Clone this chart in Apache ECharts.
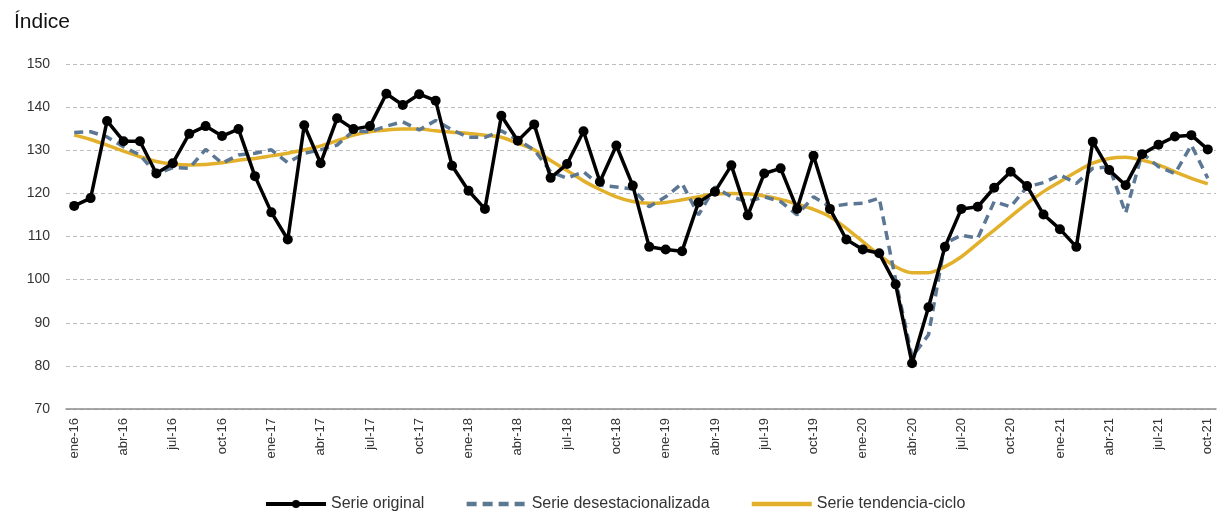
<!DOCTYPE html>
<html>
<head>
<meta charset="utf-8">
<script src="https://cdn.jsdelivr.net/npm/echarts@6/dist/echarts.min.js"></script>
<style>
  html, body { margin: 0; padding: 0; background: #fff; }
  #chart { width: 1220px; height: 518px; }
</style>
</head>
<body>
<div id="chart"></div>
<script>
// meses ene-16 .. oct-21
const meses = ["ene", "feb", "mar", "abr", "may", "jun", "jul", "ago", "sep", "oct", "nov", "dic"]
const categorias = []
for (let a = 16; a <= 21; a++) {
  for (let m = 0; m < 12; m++) {
    if (a === 21 && m > 9) break
    categorias.push(meses[m] + "-" + a)
  }
}

const serieOriginal = [
  117.1, 118.9, 136.8, 132.1, 132.1, 124.6, 127.0, 133.8, 135.6, 133.3, 134.9, 124.0,
  115.6, 109.3, 135.8, 127.0, 137.4, 134.9, 135.6, 143.1, 140.5, 143.0, 141.5, 126.4,
  120.6, 116.4, 138.0, 132.2, 136.0, 123.6, 126.8, 134.4, 122.7, 131.1, 121.8, 107.6,
  107.0, 106.6, 117.9, 120.4, 126.5, 114.9, 124.6, 125.8, 116.4, 128.7, 116.4, 109.3,
  107.0, 106.1, 98.9, 80.6, 93.6, 107.6, 116.4, 116.9, 121.3, 125.0, 121.7, 115.1,
  111.7, 107.6, 132.0, 125.4, 121.9, 129.1, 131.3, 133.2, 133.5, 130.2,
]

const serieDesest = [
  134.1, 134.3, 133.1, 130.8, 128.9, 124.5, 126.0, 125.8, 130.2, 127.0, 128.9, 129.3,
  130.1, 127.1, 129.3, 130.1, 131.2, 134.5, 134.3, 135.6, 136.6, 134.7, 136.9, 134.7,
  133.0, 133.0, 134.5, 132.4, 130.1, 125.0, 123.5, 125.0, 121.9, 121.5, 121.0, 116.9,
  119.2, 122.3, 115.0, 121.5, 119.2, 118.1, 119.2, 118.1, 115.0, 119.2, 116.9, 117.5,
  117.7, 118.9, 99.9, 82.1, 87.2, 108.4, 110.3, 109.6, 118.1, 116.9, 121.5, 122.5,
  124.3, 122.3, 125.8, 126.2, 115.4, 129.3, 126.2, 124.6, 131.2, 123.5,
]

const serieTendencia = [
  133.5, 132.5, 131.2, 129.8, 128.5, 127.4, 126.8, 126.6, 126.7, 127.1, 127.7, 128.1,
  128.7, 129.3, 130.1, 131.0, 132.2, 133.5, 134.3, 134.7, 134.9, 134.9, 134.5, 134.2,
  133.9, 133.5, 133.0, 131.6, 130.1, 127.6, 125.3, 122.9, 120.9, 119.2, 118.1, 117.7,
  117.9, 118.5, 119.2, 119.9, 120.0, 119.9, 119.4, 118.6, 117.5, 116.3, 114.6, 111.9,
  108.8, 105.7, 103.0, 101.6, 101.6, 103.0, 105.3, 108.4, 111.5, 114.6, 117.7, 120.4,
  122.7, 125.0, 127.0, 128.1, 128.4, 127.7, 126.6, 125.0, 123.5, 122.2,
]

const fuente = "'Liberation Sans', Arial, sans-serif"

const myChart = echarts.init(document.getElementById("chart"))

const option = {
  animation: false,
  textStyle: { fontFamily: fuente },
  title: {
    text: "Índice",
    left: 9,
    top: 7,
    textStyle: { fontSize: 21, fontWeight: "normal", color: "#111", fontFamily: fuente },
  },
  legend: {
    bottom: 1,
    left: 259,
    itemWidth: 60,
    itemHeight: 10,
    itemGap: 40,
    textStyle: { fontSize: 16, color: "#333", fontFamily: fuente },
    data: [
      { name: "Serie original", lineStyle: { width: 4 } },
      {
        name: "Serie desestacionalizada",
        itemStyle: { opacity: 0 },
        lineStyle: { width: 4.5, type: [10, 6] },
      },
      { name: "Serie tendencia-ciclo", itemStyle: { opacity: 0 }, lineStyle: { width: 4.5 } },
    ],
  },
  grid: {
    left: 66,
    right: 4,
    top: 64,
    bottom: 109,
  },
  xAxis: {
    type: "category",
    data: categorias,
    boundaryGap: true,
    axisLine: { lineStyle: { color: "#8c8c8c", width: 1.5 } },
    axisTick: { interval: 0, length: 5, lineStyle: { color: "#8c8c8c" } },
    axisLabel: {
      interval: 2,
      rotate: 90,
      fontSize: 13,
      color: "#333",
      margin: 9,
    },
  },
  yAxis: {
    type: "value",
    min: 70,
    max: 150,
    interval: 10,
    axisLine: { show: false },
    axisTick: { show: false },
    axisLabel: { fontSize: 14, color: "#333", margin: 16 },
    splitLine: { lineStyle: { color: "#bdbdbd", type: [4, 3], width: 1 } },
  },
  series: [
    {
      name: "Serie original",
      type: "line",
      data: serieOriginal,
      symbol: "circle",
      symbolSize: 10,
      z: 3,
      itemStyle: { color: "#000" },
      lineStyle: { color: "#000", width: 3.5 },
    },
    {
      name: "Serie desestacionalizada",
      type: "line",
      data: serieDesest,
      symbol: "none",
      z: 2,
      itemStyle: { color: "#5b7793" },
      lineStyle: { color: "#5b7793", width: 3.5, type: [9, 6] },
    },
    {
      name: "Serie tendencia-ciclo",
      type: "line",
      data: serieTendencia,
      symbol: "none",
      smooth: 0.3,
      z: 1,
      itemStyle: { color: "#e2b02a" },
      lineStyle: { color: "#e2b02a", width: 3.5 },
    },
  ],
}

myChart.setOption(option)
</script>
</body>
</html>
